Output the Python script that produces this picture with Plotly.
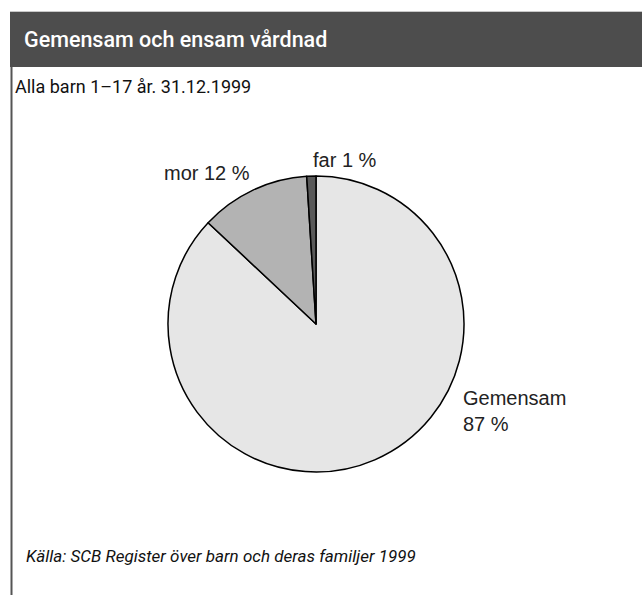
import plotly.graph_objects as go

labels = ["Gemensam", "mor", "far"]
values = [87, 12, 1]
colors = ["#e6e6e6", "#b3b3b3", "#595959"]
label_texts = ["Gemensam<br>87 %", "mor 12 %", "far 1 %"]

title = "Gemensam och ensam vårdnad"
subtitle = "Alla barn 1–17 år. 31.12.1999"
source = "Källa: SCB Register över barn och deras familjer 1999"

W, H = 642, 595
def px(x): return x / W
def py(y): return 1 - y / H

cx, cy, r = 316, 324, 148

fig = go.Figure(go.Pie(
    labels=labels, values=values, sort=False, direction="clockwise", rotation=0,
    marker=dict(colors=colors, line=dict(color="black", width=1.5)),
    textinfo="none", hoverinfo="label+percent", showlegend=False,
    domain=dict(x=[px(cx - r), px(cx + r)], y=[py(cy + r), py(cy - r)]),
))

shapes = [
    dict(type="rect", xref="paper", yref="paper", x0=px(10), x1=px(642), y0=py(67), y1=py(12),
         fillcolor="#4d4d4d", line=dict(width=0), layer="below"),
    dict(type="line", xref="paper", yref="paper", x0=px(10), x1=px(642), y0=py(11.5), y1=py(11.5),
         line=dict(color="#c8c8c8", width=1)),
    dict(type="line", xref="paper", yref="paper", x0=px(11.5), x1=px(11.5), y0=py(67), y1=py(595),
         line=dict(color="#555555", width=2)),
]

lab_font = dict(family="Liberation Sans, Arial, sans-serif", size=20, color="#222222")
annotations = [
    dict(text=title, x=px(22), y=py(40), xref="paper", yref="paper", xanchor="left", yanchor="middle",
         showarrow=False, font=dict(family="Roboto, sans-serif", size=21.5, color="white", weight=500)),
    dict(text=subtitle, x=px(13), y=py(86), xref="paper", yref="paper", xanchor="left", yanchor="middle",
         showarrow=False, font=dict(family="Roboto, sans-serif", size=18, color="#111111")),
    dict(text=source, x=px(24), y=py(556), xref="paper", yref="paper", xanchor="left", yanchor="middle",
         showarrow=False, font=dict(family="Roboto, sans-serif", size=17, color="#111111", style="italic")),
    dict(text=label_texts[0], x=px(461), y=py(411), xref="paper", yref="paper", xanchor="left", yanchor="middle",
         align="left", showarrow=False, font=lab_font),
    dict(text=label_texts[1], x=px(162), y=py(173), xref="paper", yref="paper", xanchor="left", yanchor="middle",
         showarrow=False, font=lab_font),
    dict(text=label_texts[2], x=px(311), y=py(160), xref="paper", yref="paper", xanchor="left", yanchor="middle",
         showarrow=False, font=lab_font),
]

fig.update_layout(
    width=W, height=H, margin=dict(l=0, r=0, t=0, b=0),
    paper_bgcolor="white", plot_bgcolor="white",
    shapes=shapes, annotations=annotations,
)

fig.write_html("out.html", config={"displayModeBar": False},
               post_script="document.body.style.margin='0';document.body.style.overflow='hidden';")
